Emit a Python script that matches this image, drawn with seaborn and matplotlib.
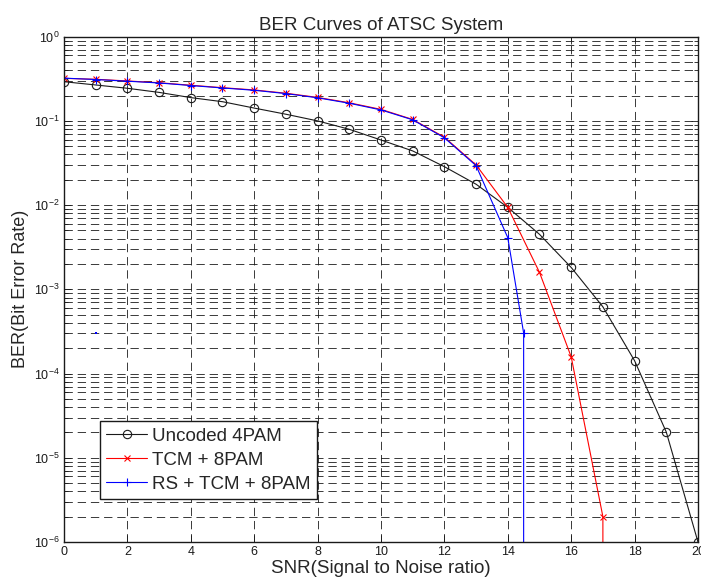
import numpy as np
import seaborn as sns
import matplotlib.pyplot as plt
from matplotlib.ticker import LogLocator, NullFormatter, MultipleLocator

# BER values
snr = list(range(0, 21))
uncoded_4pam = [0.292, 0.267, 0.244, 0.218, 0.189, 0.169, 0.142, 0.120, 0.100, 0.0795,
                0.0593, 0.044, 0.0286, 0.0177, 0.0094, 0.0045, 0.00182, 6.2e-4, 1.42e-4,
                2.02e-5, 1.0e-6]

tcm_snr = list(range(0, 18)) + [17]
tcm_8pam = [0.32, 0.312, 0.298, 0.284, 0.265, 0.248, 0.233, 0.213, 0.19, 0.164,
            0.137, 0.104, 0.064, 0.030, 0.0094, 1.59e-3, 1.58e-4, 2.0e-6, 0.0]

rs_snr = list(range(0, 15)) + [14.5, 14.5]
rs_tcm_8pam = [0.322, 0.31, 0.296, 0.282, 0.263, 0.246, 0.231, 0.211, 0.188, 0.162,
               0.135, 0.103, 0.063, 0.0294, 0.0041, 3.03e-4, 0.0]
stray_snr = [1]
stray_ber = [3.0e-4]

sns.set_theme(style='ticks')
plt.rcParams['font.family'] = ['Liberation Sans', 'DejaVu Sans']
plt.rcParams['lines.scale_dashes'] = False
plt.rcParams['xtick.direction'] = 'in'
plt.rcParams['ytick.direction'] = 'in'

fig = plt.figure(figsize=(7.01, 5.84), dpi=100)
ax = fig.add_axes([0.0913, 0.0719, 0.9044, 0.8653])

sns.lineplot(x=snr, y=uncoded_4pam, ax=ax, color='k', lw=0.8, marker='o', ms=6,
             mfc='none', mec='k', mew=0.8, sort=False, estimator=None,
             label='Uncoded 4PAM')
sns.lineplot(x=tcm_snr, y=tcm_8pam, ax=ax, color='red', lw=0.8, marker='x', ms=4,
             mec='red', mew=0.8, sort=False, estimator=None, label='TCM + 8PAM')
sns.lineplot(x=rs_snr, y=rs_tcm_8pam, ax=ax, color='blue', lw=0.8, marker='+', ms=6,
             mec='blue', mew=0.8, sort=False, estimator=None, label='RS + TCM + 8PAM')
sns.scatterplot(x=stray_snr, y=stray_ber, ax=ax, color='blue', s=4, marker='s',
                linewidth=0, legend=False)

ax.set_yscale('log')
ax.set_xlim(0, 20)
ax.set_ylim(1e-6, 1)
ax.xaxis.set_major_locator(MultipleLocator(2))
ax.yaxis.set_major_locator(LogLocator(base=10, numticks=10))
ax.yaxis.set_minor_locator(LogLocator(base=10, subs=np.arange(2, 10), numticks=20))
ax.yaxis.set_minor_formatter(NullFormatter())

ax.grid(True, which='major', axis='both', color='k', lw=0.6, linestyle=(0, (6, 3.5)))
ax.grid(True, which='minor', axis='y', color='k', lw=0.6, linestyle=(0, (6, 3.5)))
ax.set_axisbelow(True)

ax.tick_params(which='both', top=True, right=True, labelsize=9, colors='k', pad=3)
ax.tick_params(which='major', length=5, width=0.6)
ax.tick_params(which='minor', length=3, width=0.6)
for s in ax.spines.values():
    s.set_linewidth(1.0)
    s.set_color('k')

ax.set_title('BER Curves of ATSC System', fontsize=13.5, pad=5)
ax.set_xlabel('SNR(Signal to Noise ratio)', fontsize=13.5, labelpad=1)
ax.set_ylabel('BER(Bit Error Rate)', fontsize=13, labelpad=4)

leg = ax.legend(loc='lower left', bbox_to_anchor=(0.057, 0.085), borderaxespad=0,
                fontsize=13.5, fancybox=False, framealpha=1, edgecolor='k',
                handlelength=2.2, handletextpad=0.27, labelspacing=0.38,
                borderpad=0.32)
leg.get_frame().set_linewidth(1.0)

fig.savefig('out.png', dpi=100)
